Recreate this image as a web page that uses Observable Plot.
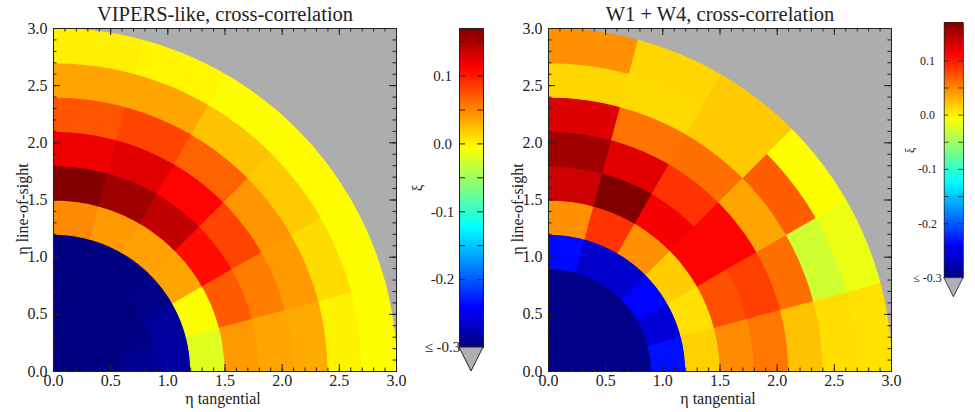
<!DOCTYPE html>
<html>
<head>
<meta charset="utf-8">
<script src="https://cdn.jsdelivr.net/npm/d3@7"></script>
<script src="https://cdn.jsdelivr.net/npm/@observablehq/plot@0.6"></script>
<style>
  body { margin: 0; background: #fff; }
  #fig { position: relative; width: 975px; height: 412px; overflow: hidden; }
  #fig > div { position: absolute; top: 0; }
  #fig svg, #fig svg text { font-family: "Liberation Serif", "DejaVu Serif", serif !important; }
</style>
</head>
<body>
<div id="fig"></div>
<script>
// Polar binning of the correlation maps: radial shells and 15° angular sectors
const radialEdges = [0, 0.3, 0.6, 0.9, 1.2, 1.5, 1.8, 2.1, 2.4, 2.7, 3.0];
const angularEdges = [0, 15, 30, 45, 60, 75, 90]; // degrees, measured from the tangential axis

// ξ per cell: one row per radial shell (inner → outer), one value per sector (0° → 90°)
const vipersLike = [
  [-0.300, -0.300, -0.300, -0.300, -0.300, -0.300],
  [-0.300, -0.300, -0.300, -0.300, -0.300, -0.300],
  [-0.292, -0.298, -0.300, -0.300, -0.300, -0.300],
  [-0.285, -0.288, -0.296, -0.300, -0.300, -0.300],
  [-0.020, -0.006, 0.035, 0.038, 0.040, 0.048],
  [0.040, 0.070, 0.106, 0.140, 0.155, 0.168],
  [0.035, 0.053, 0.080, 0.110, 0.125, 0.118],
  [0.033, 0.040, 0.042, 0.066, 0.080, 0.072],
  [-0.001, 0.010, 0.018, 0.022, 0.035, 0.036],
  [-0.006, -0.006, -0.005, -0.006, -0.002, 0.001]
];

const w1w4 = [
  [-0.296, -0.296, -0.296, -0.296, -0.296, -0.296],
  [-0.296, -0.296, -0.296, -0.296, -0.296, -0.296],
  [-0.296, -0.296, -0.296, -0.296, -0.296, -0.296],
  [-0.235, -0.260, -0.240, -0.265, -0.265, -0.237],
  [0.015, 0.008, 0.017, 0.045, 0.088, 0.045],
  [0.047, 0.075, 0.110, 0.115, 0.170, 0.135],
  [0.057, 0.082, 0.110, 0.088, 0.125, 0.155],
  [0.022, 0.060, 0.035, 0.060, 0.058, 0.127],
  [0.009, -0.028, 0.068, 0.018, 0.011, 0.012],
  [0.007, -0.015, -0.006, 0.018, 0.012, 0.045]
];

const panelTitles = ["VIPERS-like, cross-correlation", "W1 + W4, cross-correlation"];
const xLabel = "η tangential";
const yLabel = "η line-of-sight";
const majorTicks = [0, 0.5, 1.0, 1.5, 2.0, 2.5, 3.0];
const minorTicks = d3.range(0, 30.5, 1).map(d => d / 10);

// Colour bar
const cbMin = -0.3, cbMax = 0.17;
const cbLabelValues = [0.1, 0.0, -0.1, -0.2, -0.3];
const cbLabelText = ["0.1", "0.0", "-0.1", "-0.2", "≤ -0.3"];
const cbTickValues = [0.15, 0.1, 0.05, 0, -0.05, -0.1, -0.15, -0.2, -0.25];
const cbTitle = "ξ";

// Jet-like rainbow, dark blue → dark red
const jetStops = [0, 0.125, 0.375, 0.625, 0.875, 1];
const jetColors = ["#000080", "#0000ff", "#00ffff", "#ffff00", "#ff0000", "#800000"];
const colorScale = {
  type: "linear",
  domain: jetStops.map(t => cbMin + t * (cbMax - cbMin)),
  range: jetColors,
  interpolate: "rgb",
  clamp: true
};

const ink = "#222";
const font = "'Liberation Serif', 'DejaVu Serif', serif";
const fmt = d3.format(".1f");

// Outline every annular sector as a closed polygon in data coordinates
function sectors(values) {
  const pts = [];
  const n = 18;
  values.forEach((row, i) => row.forEach((v, j) => {
    const r0 = radialEdges[i], r1 = radialEdges[i + 1];
    const a0 = angularEdges[j] * Math.PI / 180, a1 = angularEdges[j + 1] * Math.PI / 180;
    const id = i + "-" + j;
    for (let k = 0; k <= n; k++) {
      const a = a0 + (a1 - a0) * k / n;
      pts.push({id, v, x: r1 * Math.cos(a), y: r1 * Math.sin(a)});
    }
    for (let k = n; k >= 0; k--) {
      const a = a0 + (a1 - a0) * k / n;
      pts.push({id, v, x: r0 * Math.cos(a), y: r0 * Math.sin(a)});
    }
    pts.push({id, v, x: r1 * Math.cos(a0), y: r1 * Math.sin(a0)});
  }));
  return pts;
}

function mainPlot(title, values) {
  const W = 410, H = 412, mT = 28, mB = 41, mL = 53, mR = 14;
  const fw = W - mL - mR, fh = H - mT - mB;
  return Plot.plot({
    width: W, height: H,
    marginTop: mT, marginBottom: mB, marginLeft: mL, marginRight: mR,
    x: {domain: [0, 3]},
    y: {domain: [0, 3]},
    color: colorScale,
    style: {fontFamily: font, fontSize: "16px", color: ink, background: "transparent", overflow: "visible"},
    marks: [
      Plot.frame({fill: "#adadad"}),
      Plot.line(sectors(values), {x: "x", y: "y", z: "id", fill: "v", stroke: "v", strokeWidth: 1.1}),
      // inward ticks on all four sides
      Plot.tickX(minorTicks, {x: d => d, insetTop: fh - 3.5, stroke: ink}),
      Plot.tickX(majorTicks, {x: d => d, insetTop: fh - 7, stroke: ink}),
      Plot.tickX(minorTicks, {x: d => d, insetBottom: fh - 3.5, stroke: ink}),
      Plot.tickX(majorTicks, {x: d => d, insetBottom: fh - 7, stroke: ink}),
      Plot.tickY(minorTicks, {y: d => d, insetRight: fw - 3.5, stroke: ink}),
      Plot.tickY(majorTicks, {y: d => d, insetRight: fw - 7, stroke: ink}),
      Plot.tickY(minorTicks, {y: d => d, insetLeft: fw - 3.5, stroke: ink}),
      Plot.tickY(majorTicks, {y: d => d, insetLeft: fw - 7, stroke: ink}),
      Plot.axisX({ticks: majorTicks, tickSize: 0, tickPadding: 3, tickFormat: fmt, label: null, fontSize: 16}),
      Plot.axisY({ticks: majorTicks, tickSize: 0, tickPadding: 6, tickFormat: fmt, label: null, fontSize: 16}),
      Plot.text([title], {text: d => d, frameAnchor: "top", lineAnchor: "middle", textAnchor: "middle", dy: -14, fontSize: 20.5}),
      Plot.text([xLabel], {text: d => d, frameAnchor: "bottom", lineAnchor: "middle", textAnchor: "middle", dy: 27, dx: -2, fontSize: 16}),
      Plot.text([yLabel], {text: d => d, frameAnchor: "left", lineAnchor: "middle", textAnchor: "middle", dx: -31, dy: 9, rotate: -90, fontSize: 16}),
      Plot.frame({stroke: ink})
    ]
  });
}

function colorBar(labelDx) {
  const cbStep = 0.002;
  const steps = d3.range(cbMin, cbMax, cbStep);
  const barW = 24;
  return Plot.plot({
    width: 90, height: 412,
    marginTop: 28, marginBottom: 65, marginLeft: 51, marginRight: 15,
    y: {domain: [cbMin, cbMax], axis: null},
    color: colorScale,
    style: {fontFamily: font, fontSize: "15px", color: ink, background: "transparent", overflow: "visible"},
    marks: [
      Plot.rect(steps, {y1: d => d, y2: d => Math.min(d + cbStep, cbMax), fill: d => d + cbStep / 2, shapeRendering: "crispEdges"}),
      Plot.tickY(cbTickValues, {y: d => d, insetRight: barW - 6, stroke: ink}),
      Plot.tickY(cbTickValues, {y: d => d, insetLeft: barW - 6, stroke: ink}),
      Plot.frame({stroke: ink}),
      // out-of-range marker below the bar
      (index, scales, values, dims) => {
        const y0 = scales.y(cbMin);
        const xl = dims.marginLeft, xr = dims.width - dims.marginRight;
        const p = document.createElementNS("http://www.w3.org/2000/svg", "path");
        p.setAttribute("d", `M${xl},${y0}L${xr},${y0}L${(xl + xr) / 2},${y0 + (xr - xl)}Z`);
        p.setAttribute("fill", "#b0b0b0");
        p.setAttribute("stroke", ink);
        p.setAttribute("stroke-width", 1);
        return p;
      },
      Plot.text(cbLabelValues, {y: d => d, text: (d, i) => cbLabelText[i], frameAnchor: "left", lineAnchor: "middle", textAnchor: "middle", dx: labelDx, fontSize: 15}),
      Plot.text([cbTitle], {text: d => d, frameAnchor: "left", lineAnchor: "middle", textAnchor: "middle", dx: -42, rotate: -90, fontSize: 15})
    ]
  });
}

const fig = document.getElementById("fig");
const panels = [
  {title: panelTitles[0], values: vipersLike, left: 0, labelDx: -17},
  {title: panelTitles[1], values: w1w4, left: 495, labelDx: -21}
];
for (const p of panels) {
  const a = document.createElement("div");
  a.style.left = p.left + "px";
  a.appendChild(mainPlot(p.title, p.values));
  fig.appendChild(a);
  const b = document.createElement("div");
  b.style.left = (p.left + 408) + "px";
  b.appendChild(colorBar(p.labelDx));
  fig.appendChild(b);
}
</script>
</body>
</html>
